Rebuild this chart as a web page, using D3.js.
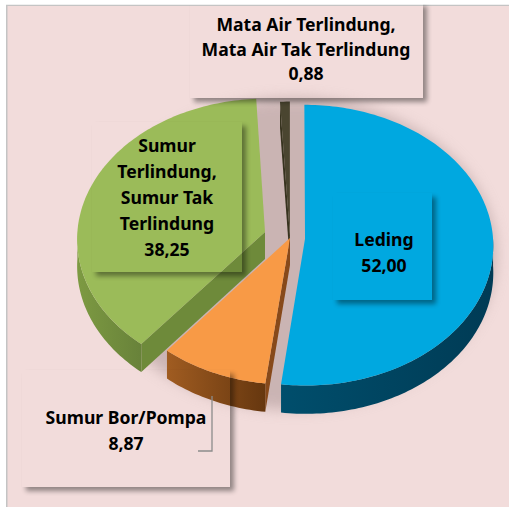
<!DOCTYPE html>
<html>
<head>
  <meta charset="utf-8">
  <title>Sumber air minum</title>
  <script src="https://d3js.org/d3.v7.min.js"></script>
  <style>body{margin:0;background:#fff;}</style>
</head>
<body>
<script>
  // data
  var categories = ["Leding", "Sumur Bor/Pompa", "Sumur Terlindung, Sumur Tak Terlindung", "Mata Air Terlindung, Mata Air Tak Terlindung"];
  var values = [52.00, 8.87, 38.25, 0.88];
  var valueLabels = ["52,00", "8,87", "38,25", "0,88"];
  var labelLines = [
    ["Leding"],
    ["Sumur Bor/Pompa"],
    ["Sumur", "Terlindung,", "Sumur Tak", "Terlindung"],
    ["Mata Air Terlindung,", "Mata Air Tak Terlindung"]
  ];

  // style
  var topColors  = ["#00a8e0", "#f89a46", "#9bbb59", "#4a4530"];
  var wallDark   = ["#003b55", "#66370f", "#68823a", "#2e2b1c"];
  var wallLight  = ["#004e6c", "#a05c21", "#7d9a42", "#3e3a26"];
  var sideColors = ["#00425e", "#87491a", "#6e8a3a", "#37331f"];
  var explode = [0.08, 0, 0.14, 0.02];

  var W = 509, H = 507;
  var cx = 290, cy = 238, rx = 188, ry = 140, depth = 27, persp = 0.046;

  var svg = d3.select("body").append("svg").attr("width", W).attr("height", H)
    .style("display", "block");
  var defs = svg.append("defs");

  // frame
  svg.append("rect").attr("x", 6).attr("y", 4.5).attr("width", W - 6).attr("height", H - 4.5).attr("fill", "#c4c4c4");
  svg.append("rect").attr("x", 7.5).attr("y", 6).attr("width", W - 7.5).attr("height", H - 6).attr("fill", "#f2dcdb");

  // filters
  var blur = defs.append("filter").attr("id", "blur").attr("x", "-20%").attr("y", "-20%").attr("width", "140%").attr("height", "140%");
  blur.append("feGaussianBlur").attr("stdDeviation", 7);
  var blur2 = defs.append("filter").attr("id", "blur2").attr("x", "-20%").attr("y", "-20%").attr("width", "140%").attr("height", "140%");
  blur2.append("feGaussianBlur").attr("stdDeviation", 2.5);

  // simple perspective: v<0 is the back of the pie, v>0 the front
  function proj(u, v, z) {
    var s = 1 / (1 - persp * v);
    return [cx + rx * u * s, cy + ry * v * s + depth * s * z];
  }

  var pie = d3.pie().sort(null).value(d => d);
  var arcs = pie(values);
  var line = d3.line().curve(d3.curveLinearClosed);

  // soft shadow under the pie
  svg.append("ellipse")
    .attr("cx", cx + 4).attr("cy", cy + 16).attr("rx", rx + 14).attr("ry", ry + 16)
    .attr("fill", "#b09a9a").attr("opacity", 0.6).attr("filter", "url(#blur)");

  var slices = arcs.map(function (a, i) {
    var mid = (a.startAngle + a.endAngle) / 2;
    var ou = explode[i] * Math.sin(mid), ov = -explode[i] * Math.cos(mid);
    var pt = function (ang, r, z) { return proj(ou + r * Math.sin(ang), ov - r * Math.cos(ang), z); };
    return { i: i, a0: a.startAngle, a1: a.endAngle, pt: pt, order: ov - Math.cos(mid) };
  });

  function arcPts(sl, a0, a1, z) {
    var n = Math.max(2, Math.ceil((a1 - a0) / 0.02));
    return d3.range(n + 1).map(k => sl.pt(a0 + (a1 - a0) * k / n, 1, z));
  }

  function sideWall(sl, ang) {
    return line([sl.pt(ang, 0, 0), sl.pt(ang, 1, 0), sl.pt(ang, 1, 1), sl.pt(ang, 0, 1)]);
  }

  var g = svg.append("g");
  slices.slice().sort((a, b) => a.order - b.order).forEach(function (sl) {
    var i = sl.i;
    // radial side walls facing the viewer
    if (Math.sin(sl.a0) < -1e-6) g.append("path").attr("d", sideWall(sl, sl.a0)).attr("fill", sideColors[i]);
    if (Math.sin(sl.a1) > 1e-6) g.append("path").attr("d", sideWall(sl, sl.a1)).attr("fill", sideColors[i]);

    // outer wall on the front half
    var w0 = Math.max(sl.a0, Math.PI / 2), w1 = Math.min(sl.a1, 3 * Math.PI / 2);
    if (w1 > w0) {
      var topEdge = arcPts(sl, w0, w1, 0), botEdge = arcPts(sl, w0, w1, 1).reverse();
      var xs = topEdge.map(p => p[0]);
      var gid = "wall" + i;
      var grad = defs.append("linearGradient").attr("id", gid).attr("gradientUnits", "userSpaceOnUse")
        .attr("x1", d3.min(xs)).attr("x2", d3.max(xs)).attr("y1", 0).attr("y2", 0);
      grad.append("stop").attr("offset", "0%").attr("stop-color", wallLight[i]);
      grad.append("stop").attr("offset", "100%").attr("stop-color", wallDark[i]);
      g.append("path").attr("d", line(topEdge.concat(botEdge))).attr("fill", "url(#" + gid + ")");
    }
    // top face
    g.append("path").attr("d", line([sl.pt(0, 0, 0)].concat(arcPts(sl, sl.a0, sl.a1, 0))))
      .attr("fill", topColors[i]);
  });

  // data labels: transparent boxes with a drop shadow
  var boxes = [
    { x: 333, y: 193, w: 99, h: 107, tx: 384, ty: 246 },
    { x: 22, y: 370, w: 208, h: 117, tx: 126, ty: 424 },
    { x: 92, y: 122, w: 150, h: 150, tx: 167, ty: 152 },
    { x: 190, y: 2, w: 233, h: 96, tx: 306, ty: 31 }
  ];
  var lineGap = [26, 26, 26, 24.5];

  boxes.forEach(function (b, i) {
    var mid = "m" + i;
    var mask = defs.append("mask").attr("id", mid).attr("maskUnits", "userSpaceOnUse")
      .attr("x", 0).attr("y", 0).attr("width", W).attr("height", H);
    mask.append("rect").attr("width", W).attr("height", H).attr("fill", "#fff");
    mask.append("rect").attr("x", b.x).attr("y", b.y).attr("width", b.w).attr("height", b.h).attr("fill", "#000");
    svg.append("g").attr("mask", "url(#" + mid + ")")
      .append("rect").attr("x", b.x + 4).attr("y", b.y + 4).attr("width", b.w).attr("height", b.h)
      .attr("fill", "#000").attr("opacity", 0.4).attr("filter", "url(#blur2)");
  });

  // white strip above the frame
  svg.append("rect").attr("x", 0).attr("y", 0).attr("width", W).attr("height", 4.5).attr("fill", "#fff");

  // leader line for Sumur Bor/Pompa
  svg.append("path").attr("d", "M198,451H212V396").attr("fill", "none").attr("stroke", "#8c8c8c").attr("stroke-width", 1.3);

  boxes.forEach(function (b, i) {
    var lines = labelLines[i].concat([valueLabels[i]]);
    var t = svg.append("text").attr("text-anchor", "middle")
      .attr("font-family", "'Noto Sans', 'Open Sans', sans-serif").attr("font-weight", "bold")
      .attr("font-size", 17.6).attr("fill", "#000");
    lines.forEach(function (s, k) {
      t.append("tspan").attr("x", b.tx).attr("y", b.ty + k * lineGap[i]).text(s);
    });
  });
</script>
</body>
</html>
